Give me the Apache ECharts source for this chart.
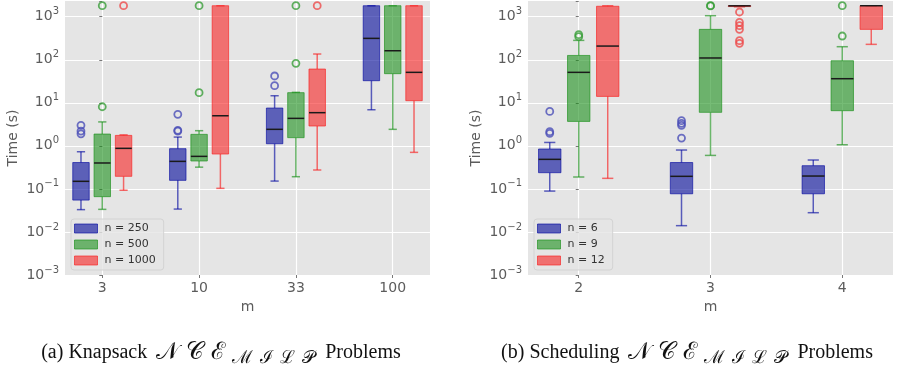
<!DOCTYPE html>
<html>
<head>
<meta charset="utf-8">
<script src="https://cdn.jsdelivr.net/npm/echarts@6/dist/echarts.min.js"></script>
<style>
  html, body { margin: 0; padding: 0; background: #fff; }
  #chart { width: 899px; height: 370px; }
</style>
</head>
<body>
<div id="chart"></div>
<script>
// boxes are [min, q1, median, q3, max] per m, outliers are lists per m
const knapsackCategories = ['3', '10', '33', '100']
const knapsackN250 = [
  [0.033, 0.055, 0.15, 0.41, 0.73],
  [0.034, 0.158, 0.436, 0.86, 1.6],
  [0.152, 1.12, 2.42, 7.56, 14.6],
  [6.9, 32.6, 314, 1800, 1800],
]
const knapsackN500 = [
  [0.0335, 0.066, 0.4, 1.88, 3.6],
  [0.32, 0.445, 0.57, 1.85, 2.25],
  [0.192, 1.55, 4.35, 17.2, 17.5],
  [2.42, 47.5, 162, 1800, 1800],
]
const knapsackN1000 = [
  [0.093, 0.196, 0.875, 1.75, 1.8],
  [0.103, 0.646, 5.0, 1800, 1800],
  [0.275, 2.89, 5.9, 60.9, 136],
  [0.706, 11.2, 51, 1800, 1800],
]
const knapsackOut250 = [[3.0, 2.2, 1.9], [5.4, 2.3, 2.2], [42, 25], []]
const knapsackOut500 = [[8.1, 1800], [17.2, 1800], [82.5, 1800], []]
const knapsackOut1000 = [[1800], [], [1800], []]

const schedulingCategories = ['2', '3', '4']
const schedulingN6 = [
  [0.089, 0.238, 0.486, 0.845, 1.2],
  [0.014, 0.077, 0.196, 0.41, 0.8],
  [0.028, 0.077, 0.199, 0.346, 0.469],
]
const schedulingN9 = [
  [0.189, 3.7, 51, 126, 282],
  [0.6, 6.0, 110, 508, 1055],
  [1.06, 6.56, 36.3, 95, 201],
]
const schedulingN12 = [
  [0.176, 14.1, 208, 1750, 1800],
  [1700, 1720, 1790, 1800, 1800],
  [228, 508, 1800, 1800, 1800],
]
const schedulingOut6 = [[6.3, 2.13, 1.95], [3.85, 3.33, 3.0, 1.52], []]
const schedulingOut9 = [[382, 343], [1800, 1780], [1800, 356]]
const schedulingOut12 = [[], [1286, 740, 620, 509, 277, 241], []]

const yTickExponents = [-3, -2, -1, 0, 1, 2, 3]

const BLUE = { fill: 'rgba(0, 7, 154, 0.6)', line: 'rgba(0, 7, 160, 0.62)', dot: '#4b4fb8' }
const GREEN = { fill: 'rgba(27, 144, 27, 0.6)', line: 'rgba(27, 144, 27, 0.65)', dot: '#3a9f3a' }
const RED = { fill: 'rgba(247, 34, 34, 0.6)', line: 'rgba(247, 34, 34, 0.65)', dot: '#ee4b4b' }
const MEDIAN_COLOR = '#1a1a1a'
const PANEL_BG = '#e5e5e5'
const TEXT_COLOR = '#5c5c5c'
const FONT = 'DejaVu Sans'

const GROUP_OFFSETS = [-0.22, 0, 0.22]
const BOX_WIDTH = 0.17

function renderBox(color) {
  return (params, api) => {
    const x = api.value(0)
    const half = BOX_WIDTH / 2
    const left = api.coord([x - half, api.value(2)])[0]
    const right = api.coord([x + half, api.value(2)])[0]
    const cx = api.coord([x, api.value(2)])[0]
    const yMin = api.coord([x, api.value(1)])[1]
    const yQ1 = api.coord([x, api.value(2)])[1]
    const yMed = api.coord([x, api.value(3)])[1]
    const yQ3 = api.coord([x, api.value(4)])[1]
    const yMax = api.coord([x, api.value(5)])[1]
    const capHalf = (right - left) / 4
    const line = (x1, y1, x2, y2, stroke) => ({
      type: 'line',
      shape: { x1, y1, x2, y2 },
      style: { stroke, lineWidth: 1.5 },
    })
    return {
      type: 'group',
      children: [
        line(cx, yMin, cx, yQ1, color.line),
        line(cx, yQ3, cx, yMax, color.line),
        line(cx - capHalf, yMin, cx + capHalf, yMin, color.line),
        line(cx - capHalf, yMax, cx + capHalf, yMax, color.line),
        {
          type: 'rect',
          shape: { x: left, y: yQ3, width: right - left, height: yQ1 - yQ3 },
          style: { fill: color.fill, stroke: color.line, lineWidth: 1 },
        },
        line(left, yMed, right, yMed, MEDIAN_COLOR),
      ],
    }
  }
}

function boxSeries(name, boxes, slot, color, axisIndex) {
  return {
    name,
    type: 'custom',
    xAxisIndex: axisIndex,
    yAxisIndex: axisIndex,
    renderItem: renderBox(color),
    encode: { x: 0, y: [1, 2, 3, 4, 5] },
    itemStyle: { color: color.fill },
    data: boxes.map((b, i) => [i + GROUP_OFFSETS[slot], ...b]),
    z: 3,
    silent: true,
  }
}

function outlierSeries(name, outliers, slot, color, axisIndex) {
  const data = []
  outliers.forEach((list, i) => {
    list.forEach((v) => data.push([i + GROUP_OFFSETS[slot], v]))
  })
  return {
    name: name + ' outliers',
    type: 'scatter',
    xAxisIndex: axisIndex,
    yAxisIndex: axisIndex,
    symbol: 'circle',
    symbolSize: 7,
    itemStyle: { color: 'rgba(0,0,0,0)', borderColor: color.dot, borderWidth: 1.8 },
    data,
    z: 4,
    silent: true,
  }
}

function xAxisFor(gridIndex, categories) {
  const values = categories.map((_, i) => i)
  return {
    gridIndex,
    type: 'value',
    min: -0.385,
    max: categories.length - 1 + 0.385,
    name: 'm',
    nameLocation: 'middle',
    nameGap: 22,
    nameTextStyle: { color: TEXT_COLOR, fontSize: 14, fontFamily: FONT },
    axisLine: { show: false },
    axisTick: { show: true, customValues: values, length: 3, lineStyle: { color: '#777' } },
    axisLabel: {
      customValues: values,
      formatter: (v) => categories[Math.round(v)],
      color: TEXT_COLOR,
      fontSize: 14,
      fontFamily: FONT,
      margin: 6,
    },
    splitLine: { show: true, lineStyle: { color: '#fff', width: 1.2 } },
  }
}

function yAxisFor(gridIndex) {
  return {
    gridIndex,
    type: 'log',
    logBase: 10,
    min: Math.pow(10, yTickExponents[0]),
    max: Math.pow(10, 3.365),
    name: 'Time (s)',
    nameLocation: 'middle',
    nameGap: 45,
    nameTextStyle: { color: TEXT_COLOR, fontSize: 14, fontFamily: FONT },
    axisLine: { show: false },
    axisTick: { show: true, length: 3, lineStyle: { color: '#777' } },
    axisLabel: {
      color: TEXT_COLOR,
      margin: 6,
      formatter: (v) => {
        const e = Math.round(Math.log10(v))
        if (Math.abs(Math.log10(v) - e) > 1e-6 || !yTickExponents.includes(e)) return ''
        return `{b|10}{s|${e < 0 ? '\u2212' + -e : e}}`
      },
      rich: {
        b: { fontSize: 14, fontFamily: FONT, color: TEXT_COLOR, lineHeight: 20 },
        s: { fontSize: 10, fontFamily: FONT, color: TEXT_COLOR, verticalAlign: 'top', lineHeight: 12 },
      },
    },
    splitLine: { show: true, showMaxLine: false, lineStyle: { color: '#fff', width: 1.2 } },
  }
}

function legendFor(left, entries) {
  return {
    orient: 'vertical',
    left,
    top: 219,
    padding: [3, 8, 3, 3],
    itemWidth: 23,
    itemHeight: 9,
    itemGap: 3,
    backgroundColor: 'rgba(229, 229, 229, 0.8)',
    borderColor: '#d3d3d3',
    borderWidth: 1,
    borderRadius: 3,
    selectedMode: false,
    textStyle: { fontSize: 11, fontFamily: FONT, color: '#333', lineHeight: 13, padding: [0, 0, 0, 2] },
    data: entries.map(([name, color]) => ({
      name,
      icon: 'rect',
      itemStyle: { color: color.fill, borderColor: color.line, borderWidth: 1 },
    })),
  }
}

// calligraphic N C E with subscript M I L P, one token per letter so they can be spaced out
const CAL_MAIN = ['\u{1D4A9}', '\u{1D49E}', '\u2130']
const CAL_SUB = ['\u2133', '\u2110', '\u2112', '\u{1D4AB}']

function caption(label, center) {
  const main = CAL_MAIN.map((c) => `{cal|${c}}`).join('')
  const sub = CAL_SUB.map((c) => `{sub|${c}}`).join('')
  return {
    text: `${label} ${main}${sub} {p|Problems}`,
    left: center,
    top: 334,
    textAlign: 'center',
    textStyle: {
      fontFamily: 'Liberation Serif',
      fontSize: 20,
      fontWeight: 'normal',
      color: '#111',
      lineHeight: 28,
      rich: {
        cal: { fontFamily: 'DejaVu Serif', fontSize: 24, color: '#111', lineHeight: 28, padding: [0, 3.5, 0, 3.5] },
        sub: { fontFamily: 'DejaVu Serif', fontSize: 18, color: '#111', verticalAlign: 'bottom', lineHeight: 19, padding: [0, 3.5, 0, 3.5] },
        p: { fontFamily: 'Liberation Serif', fontSize: 20, color: '#111', lineHeight: 28, padding: [0, 0, 0, 2] },
      },
    },
  }
}

const chart = echarts.init(document.getElementById('chart'))
chart.setOption({
  animation: false,
  backgroundColor: '#fff',
  title: [caption('(a) Knapsack', 216), caption('(b) Scheduling', 682)],
  grid: [
    { left: 65, right: 469, top: 1, bottom: 95, show: true, backgroundColor: PANEL_BG, borderWidth: 0 },
    { left: 528, right: 6, top: 1, bottom: 95, show: true, backgroundColor: PANEL_BG, borderWidth: 0 },
  ],
  legend: [
    legendFor(71, [['n = 250', BLUE], ['n = 500', GREEN], ['n = 1000', RED]]),
    legendFor(534, [['n = 6', BLUE], ['n = 9', GREEN], ['n = 12', RED]]),
  ],
  xAxis: [xAxisFor(0, knapsackCategories), xAxisFor(1, schedulingCategories)],
  yAxis: [yAxisFor(0), yAxisFor(1)],
  series: [
    boxSeries('n = 250', knapsackN250, 0, BLUE, 0),
    boxSeries('n = 500', knapsackN500, 1, GREEN, 0),
    boxSeries('n = 1000', knapsackN1000, 2, RED, 0),
    outlierSeries('n = 250', knapsackOut250, 0, BLUE, 0),
    outlierSeries('n = 500', knapsackOut500, 1, GREEN, 0),
    outlierSeries('n = 1000', knapsackOut1000, 2, RED, 0),
    boxSeries('n = 6', schedulingN6, 0, BLUE, 1),
    boxSeries('n = 9', schedulingN9, 1, GREEN, 1),
    boxSeries('n = 12', schedulingN12, 2, RED, 1),
    outlierSeries('n = 6', schedulingOut6, 0, BLUE, 1),
    outlierSeries('n = 9', schedulingOut9, 1, GREEN, 1),
    outlierSeries('n = 12', schedulingOut12, 2, RED, 1),
  ],
})
</script>
</body>
</html>
